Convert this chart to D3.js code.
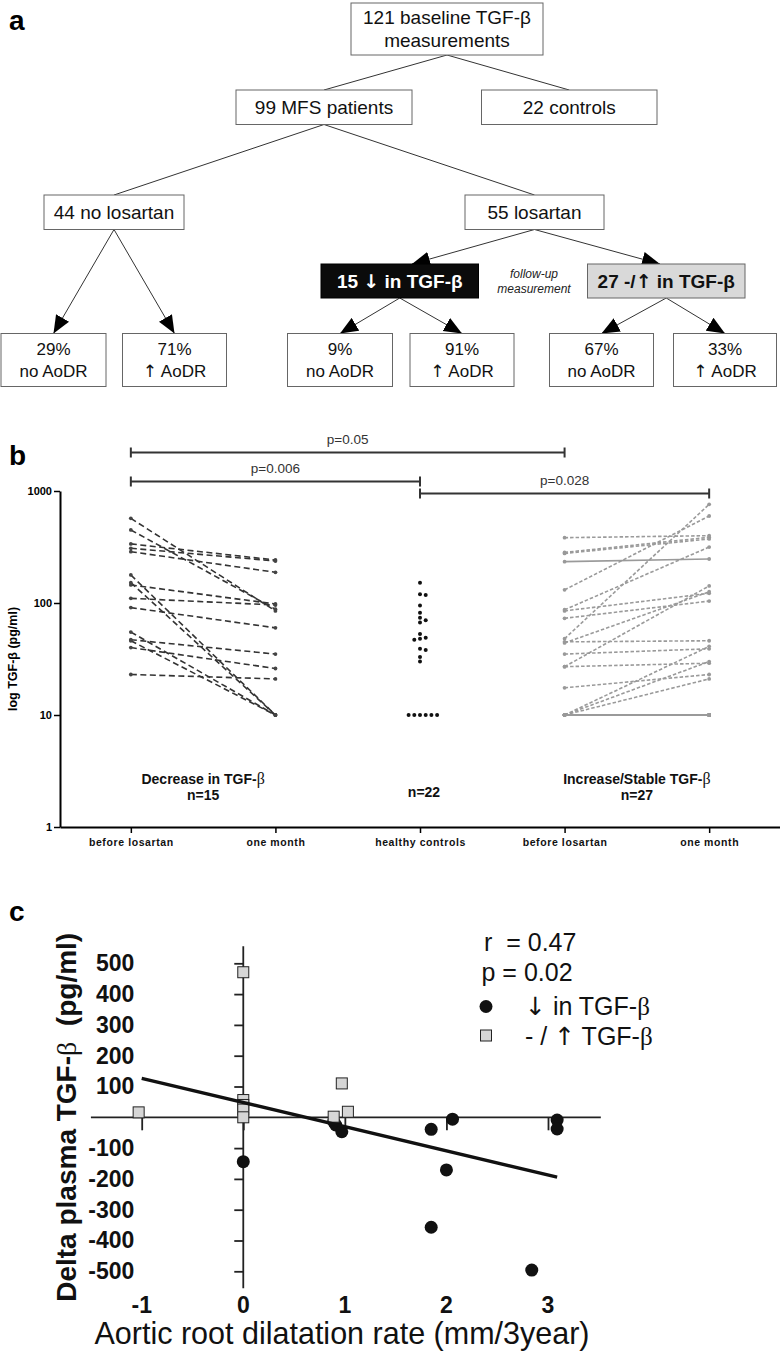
<!DOCTYPE html>
<html><head><meta charset="utf-8">
<script src="https://cdn.jsdelivr.net/npm/d3@7"></script>
<style>body{margin:0;background:#fff}</style>
</head><body>
<script>
// ---------------- DATA ----------------
// Panel a: flow chart labels
const flowLabels = [
  ["121 baseline TGF-β", "measurements"],
  ["99 MFS patients"],
  ["22 controls"],
  ["44 no losartan"],
  ["55 losartan"],
  ["15 ↓ in TGF-β"],
  ["27 -/↑ in TGF-β"],
  ["29%", "no AoDR"],
  ["71%", "↑ AoDR"],
  ["9%", "no AoDR"],
  ["91%", "↑ AoDR"],
  ["67%", "no AoDR"],
  ["33%", "↑ AoDR"]
];
const flowNote = ["follow-up", "measurement"];

// Panel b
const bCategories = ["before losartan", "one month", "healthy controls", "before losartan", "one month"];
const bYTicks = [1, 10, 100, 1000];
const decBefore = [570, 449, 337, 308, 287, 178, 152, 145, 110, 91, 55, 47, 46, 40, 23];
const decAfter  = [85, 88, 242, 237, 188, 10, 10, 98, 96, 60, 10, 35, 10, 26, 21];
const incBefore = [383, 283, 277, 234, 131, 87, 85, 73, 48, 45, 44, 35, 27, 27, 17.5, 10, 10, 10, 10, 10, 10, 10, 10, 10, 10, 10, 10];
const incAfter  = [399, 386, 373, 247, 598, 316, 122, 104, 760, 46, 126, 39, 142, 29, 23, 41, 30, 21, 10, 10, 10, 10, 10, 10, 10, 10, 10];
const incChange = ["up","up","up","stable","up","up","up","up","up","up","up","up","up","up","up","up","up","up",
                   "stable","stable","stable","stable","stable","stable","stable","stable","stable"];
const controls = [152, 120, 118, 95, 82, 74, 70, 67, 53, 49, 48, 47, 39, 38, 33, 30, 10, 10, 10, 10, 10, 10];
const groupTitles = ["Decrease in TGF-", "", "Increase/Stable TGF-"];
const groupN = ["n=15", "n=22", "n=27"];
const bracketLabels = ["p=0.05", "p=0.006", "p=0.028"];
const bracketFrom = [0, 0, 2];
const bracketTo = [3, 2, 4];

// Panel c
const cXTicks = [-1, 0, 1, 2, 3];
const cYTicks = [-500, -400, -300, -200, -100, 100, 200, 300, 400, 500];
const downX = [0, 0.89, 0.91, 0.97, 1.85, 2.06, 2.0, 1.85, 2.84, 3.09, 3.09];
const downY = [-144, -14, -25, -47, -39, -6, -171, -357, -496, -9, -38];
const upX = [-1.03, 0, 0, 0, 0, 0, 0.89, 0.97, 1.03];
const upY = [16, 471, 56, 40, 25, 0, 2, 110, 18];
const fitIntercept = 48, fitSlope = -78.5, fitRange = [-1, 3.09];
const statsText = ["r  = 0.47", "p = 0.02"];
const legendText = ["↓ in TGF-", "- / ↑ TGF-"];

// ---------------- DRAWING ----------------
const F = '"Liberation Sans", Arial, Helvetica, sans-serif';
const SERIF = '"Liberation Serif", "DejaVu Serif", serif';
const ARROWF = '"DejaVu Sans", sans-serif';
function fillText(el, s) {
  s.split(/([↑↓])/).forEach(part => {
    if (!part) return;
    const t = el.append("tspan").text(part);
    if (/[↑↓]/.test(part)) t.attr("font-family", ARROWF);
  });
  return el;
}
const svg = d3.select("body").append("svg")
  .attr("width", 780).attr("height", 1352)
  .attr("font-family", F);
svg.append("rect").attr("width", 780).attr("height", 1352).attr("fill", "#fff");

// panel letters
[["a", 9, 30], ["b", 9, 465], ["c", 9, 921]].forEach(([t, x, y]) =>
  svg.append("text").attr("x", x).attr("y", y).attr("font-size", 28)
    .attr("font-weight", "bold").text(t));

// ===== Panel a =====
const layout = [
  {x0: 351, x1: 543, y0: 3, y1: 55},
  {x0: 236, x1: 412, y0: 90, y1: 124.5},
  {x0: 481.5, x1: 657, y0: 90, y1: 124.5},
  {x0: 44, x1: 184, y0: 195, y1: 229.5},
  {x0: 465, x1: 604, y0: 195, y1: 229.5},
  {x0: 321, x1: 478.5, y0: 264, y1: 298, style: "black"},
  {x0: 587.5, x1: 745, y0: 264, y1: 298, style: "gray"},
  {x0: 1, x1: 106, y0: 333.5, y1: 386.5},
  {x0: 122.5, x1: 226.5, y0: 333.5, y1: 386.5},
  {x0: 287.5, x1: 392.5, y0: 333.5, y1: 386.5},
  {x0: 410, x1: 514, y0: 333.5, y1: 386.5},
  {x0: 549.5, x1: 653.5, y0: 333.5, y1: 386.5},
  {x0: 673.5, x1: 776.5, y0: 333.5, y1: 386.5}
];
const cx = b => (b.x0 + b.x1) / 2;
const defs = svg.append("defs");
defs.append("marker").attr("id", "arr").attr("markerUnits", "userSpaceOnUse")
  .attr("viewBox", "0 -8 18 16").attr("refX", 18).attr("refY", 0)
  .attr("markerWidth", 18).attr("markerHeight", 16).attr("orient", "auto")
  .append("path").attr("d", "M0,-7.5L18,0L0,7.5Z").attr("fill", "#000");

const edges = [
  [0, 1, false, null], [0, 2, false, null], [1, 3, false, null], [1, 4, false, null],
  [4, 5, true, 412], [4, 6, true, 660],
  [3, 7, true, null], [3, 8, true, null], [5, 9, true, null], [5, 10, true, null],
  [6, 11, true, null], [6, 12, true, null]
];
const gA = svg.append("g");
edges.forEach(([f, t, arrow, tx]) => {
  const a = layout[f], b = layout[t];
  gA.append("line").attr("x1", cx(a)).attr("y1", a.y1)
    .attr("x2", tx == null ? cx(b) : tx).attr("y2", b.y0)
    .attr("stroke", "#333").attr("stroke-width", 1)
    .attr("marker-end", arrow ? "url(#arr)" : null);
});
layout.forEach((b, i) => {
  gA.append("rect").attr("x", b.x0).attr("y", b.y0).attr("width", b.x1 - b.x0).attr("height", b.y1 - b.y0)
    .attr("fill", b.style === "black" ? "#0b0b0b" : b.style === "gray" ? "#d9d9d9" : "#fff")
    .attr("stroke", b.style === "black" ? "#000" : "#666").attr("stroke-width", 1);
  const lines = flowLabels[i];
  const small = i >= 7;
  const fs = small ? 17 : 19;
  const mid = (b.y0 + b.y1) / 2;
  const gap = small ? 22.5 : 23;
  lines.forEach((ln, k) => {
    const y = mid + (k - (lines.length - 1) / 2) * gap + fs * 0.36;
    const t = gA.append("text").attr("x", cx(b)).attr("y", y).attr("text-anchor", "middle")
      .attr("font-size", fs)
      .attr("font-weight", b.style ? "bold" : "normal")
      .attr("fill", b.style === "black" ? "#fff" : "#111");
    fillText(t, ln);
  });
});
flowNote.forEach((t, k) => gA.append("text").attr("x", 534).attr("y", 278 + k * 15)
  .attr("text-anchor", "middle").attr("font-size", 12).attr("font-style", "italic")
  .attr("fill", "#222").text(t));

// ===== Panel b =====
const yB = d3.scaleLog().domain([1, 1000]).range([827, 491]);
const xB = d3.scalePoint().domain(d3.range(bCategories.length)).range([60, 780]).padding(0.49);
const gB = svg.append("g");

// axes
gB.append("g").attr("transform", "translate(60,0)")
  .call(d3.axisLeft(yB).tickValues(bYTicks).tickFormat(d => String(d)).tickSize(6).tickSizeOuter(0).tickPadding(2))
  .call(g => {
    g.attr("font-family", F).attr("font-size", 11).attr("font-weight", "bold");
    g.select(".domain").attr("stroke-width", 2);
    g.selectAll(".tick line").attr("stroke-width", 1.5);
  });
gB.append("g").attr("transform", "translate(0,827)")
  .call(d3.axisBottom(xB).tickFormat(i => bCategories[i]).tickSize(6).tickSizeOuter(0).tickPadding(6))
  .call(g => {
    g.attr("font-family", F).attr("font-size", 10.5).attr("font-weight", "bold");
    g.selectAll("text").attr("letter-spacing", 0.6).attr("fill", "#111");
    g.select(".domain").attr("stroke-width", 2);
    g.selectAll(".tick line").attr("stroke-width", 1.5);
  });
gB.append("text").attr("transform", `translate(17,${(yB(1) + yB(1000)) / 2}) rotate(-90)`)
  .attr("text-anchor", "middle").attr("font-size", 12.5).attr("font-weight", "bold")
  .text("log TGF-β (pg/ml)");

// decrease group
const decPairs = d3.zip(decBefore, decAfter);
gB.append("g").selectAll("line").data(decPairs).join("line")
  .attr("x1", xB(0)).attr("y1", d => yB(d[0]))
  .attr("x2", xB(1)).attr("y2", d => yB(d[1]))
  .attr("stroke", "#333").attr("stroke-width", 1.6).attr("stroke-dasharray", "6,3.5");
gB.append("g").selectAll("circle").data(decPairs.flatMap(d => [[0, d[0]], [1, d[1]]])).join("circle")
  .attr("cx", d => xB(d[0])).attr("cy", d => yB(d[1])).attr("r", 1.9).attr("fill", "#444");

// increase/stable group
const incPairs = d3.zip(incBefore, incAfter, incChange);
gB.append("g").selectAll("line").data(incPairs).join("line")
  .attr("x1", xB(3)).attr("y1", d => yB(d[0]))
  .attr("x2", xB(4)).attr("y2", d => yB(d[1]))
  .attr("stroke", "#9a9a9a").attr("stroke-width", 1.6)
  .attr("stroke-dasharray", d => d[2] === "stable" ? null : "3.5,2");
gB.append("g").selectAll("circle").data(incPairs.flatMap(d => [[3, d[0]], [4, d[1]]])).join("circle")
  .attr("cx", d => xB(d[0])).attr("cy", d => yB(d[1])).attr("r", 1.9).attr("fill", "#999");

// controls (dodged dot plot)
const placed = [];
const order = [0, 1, -1, 2, -2, 3, -3, 4, -4];
controls.slice().sort((a, b) => b - a).forEach(v => {
  const y = yB(v);
  for (const k of order) {
    const x = xB(2) + k * 5.7;
    if (!placed.some(p => Math.abs(p.y - y) < 4.6 && Math.abs(p.x - x) < 5)) {
      placed.push({x, y}); break;
    }
  }
});
gB.append("g").selectAll("circle").data(placed).join("circle")
  .attr("cx", d => d.x).attr("cy", d => d.y).attr("r", 2).attr("fill", "#111");

// group titles
const titleX = [(xB(0) + xB(1)) / 2, xB(2), (xB(3) + xB(4)) / 2];
groupTitles.forEach((t, i) => {
  if (t) {
    const tx = gB.append("text").attr("x", titleX[i]).attr("y", 784).attr("text-anchor", "middle")
      .attr("font-size", 14).attr("font-weight", "bold").attr("fill", "#111");
    tx.append("tspan").text(t);
    tx.append("tspan").attr("font-family", SERIF).attr("font-weight", "normal").attr("font-size", 16).text("β");
  }
  gB.append("text").attr("x", titleX[i] + (i === 1 ? 4 : 0)).attr("y", i === 1 ? 797 : 800)
    .attr("text-anchor", "middle").attr("font-size", 14).attr("font-weight", "bold").attr("fill", "#111")
    .text(groupN[i]);
});

// significance brackets
const bracketY = [452.5, 481.5, 493.5];
bracketLabels.forEach((lab, i) => {
  const x1 = xB(bracketFrom[i]), x2 = xB(bracketTo[i]), y = bracketY[i];
  const g = gB.append("g").attr("stroke", "#333").attr("stroke-width", 2);
  g.append("line").attr("x1", x1).attr("x2", x2).attr("y1", y).attr("y2", y);
  g.append("line").attr("x1", x1).attr("x2", x1).attr("y1", y - 5).attr("y2", y + 5);
  g.append("line").attr("x1", x2).attr("x2", x2).attr("y1", y - 5).attr("y2", y + 5);
  gB.append("text").attr("x", (x1 + x2) / 2).attr("y", y - 8.5).attr("text-anchor", "middle")
    .attr("font-size", 13.5).attr("fill", "#333").text(lab);
});

// ===== Panel c =====
const xC = d3.scaleLinear().domain([-1, 3]).range([141.7, 548]);
const yC = d3.scaleLinear().domain([-500, 500]).range([1271.3, 963.3]);
const gC = svg.append("g");

gC.append("g").attr("transform", `translate(${xC(0)},0)`)
  .call(d3.axisLeft(yC).tickValues(cYTicks).tickFormat(d => String(d)).tickSize(9).tickPadding(100))
  .call(g => {
    g.select(".domain").remove();
    g.attr("font-family", F).attr("font-size", 23).attr("font-weight", "bold");
    g.selectAll(".tick line").attr("stroke-width", 1.8).attr("stroke", "#222");
    g.selectAll("text").attr("fill", "#111");
  });
gC.append("line").attr("x1", xC(0)).attr("x2", xC(0)).attr("y1", yC(555)).attr("y2", yC(-555))
  .attr("stroke", "#222").attr("stroke-width", 1.8);

gC.append("g").attr("transform", `translate(0,${yC(0)})`)
  .call(d3.axisBottom(xC).tickValues(cXTicks).tickFormat("").tickSize(13))
  .call(g => {
    g.select(".domain").remove();
    g.selectAll(".tick line").attr("stroke-width", 1.8).attr("stroke", "#222");
  });
gC.append("line").attr("x1", xC(-1.5)).attr("x2", xC(3.52)).attr("y1", yC(0)).attr("y2", yC(0))
  .attr("stroke", "#222").attr("stroke-width", 1.8);
gC.append("g").selectAll("text").data(cXTicks).join("text")
  .attr("x", d => xC(d)).attr("y", 1313).attr("text-anchor", "middle")
  .attr("font-size", 23).attr("font-weight", "bold").attr("fill", "#111").text(d => String(d));

// axis titles
const yt = gC.append("text").attr("transform", `translate(76,${yC(0)}) rotate(-90)`)
  .attr("text-anchor", "middle").attr("font-size", 28).attr("font-weight", "bold").attr("fill", "#111")
  .style("white-space", "pre");
yt.append("tspan").text("Delta plasma TGF-");
yt.append("tspan").attr("font-family", SERIF).attr("font-weight", "normal").text("β");
yt.append("tspan").text("  (pg/ml)");
gC.append("text").attr("x", 342).attr("y", 1344).attr("text-anchor", "middle")
  .attr("font-size", 30.5).attr("fill", "#111").text("Aortic root dilatation rate (mm/3year)");

// points
gC.append("g").selectAll("circle").data(d3.zip(downX, downY)).join("circle")
  .attr("cx", d => xC(d[0])).attr("cy", d => yC(d[1])).attr("r", 6.5).attr("fill", "#111");
gC.append("g").selectAll("rect").data(d3.zip(upX, upY)).join("rect")
  .attr("x", d => xC(d[0]) - 5.5).attr("y", d => yC(d[1]) - 5.5).attr("width", 11).attr("height", 11)
  .attr("fill", "#d6d6d6").attr("stroke", "#222").attr("stroke-width", 1);

// regression line
gC.append("line")
  .attr("x1", xC(fitRange[0])).attr("y1", yC(fitIntercept + fitSlope * fitRange[0]))
  .attr("x2", xC(fitRange[1])).attr("y2", yC(fitIntercept + fitSlope * fitRange[1]))
  .attr("stroke", "#111").attr("stroke-width", 3.3);

// stats + legend
statsText.forEach((t, i) => gC.append("text").attr("x", i === 0 ? 484 : 481.5).attr("y", 951 + i * 30)
  .attr("font-size", 25).attr("fill", "#111").style("white-space", "pre").text(t));
gC.append("circle").attr("cx", 486).attr("cy", 1006.5).attr("r", 6.5).attr("fill", "#111");
gC.append("rect").attr("x", 480.5).attr("y", 1030).attr("width", 11).attr("height", 11)
  .attr("fill", "#d6d6d6").attr("stroke", "#222").attr("stroke-width", 1);
legendText.forEach((t, i) => {
  const tx = gC.append("text").attr("x", 525).attr("y", 1015 + i * 29.5)
    .attr("font-size", 25).attr("fill", "#111").style("white-space", "pre");
  fillText(tx, t);
  tx.append("tspan").attr("font-family", SERIF).text("β");
});
</script>
</body></html>
